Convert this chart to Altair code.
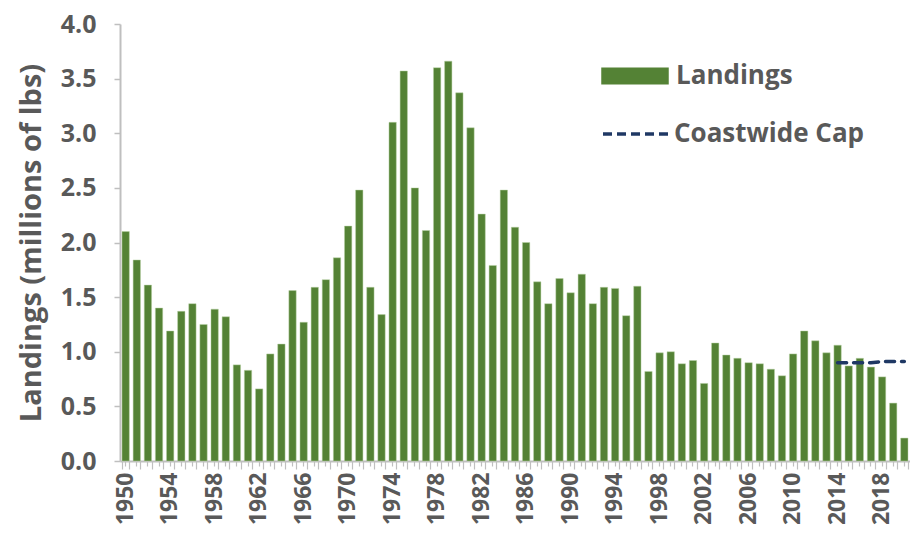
import altair as alt
import pandas as pd

years = list(range(1950, 2021))
landings = [2.10, 1.84, 1.61, 1.40, 1.19, 1.37, 1.44, 1.25, 1.39, 1.32,
            0.88, 0.83, 0.66, 0.98, 1.07, 1.56, 1.27, 1.59, 1.66, 1.86,
            2.15, 2.48, 1.59, 1.34, 3.10, 3.57, 2.50, 2.11, 3.60, 3.66,
            3.37, 3.05, 2.26, 1.79, 2.48, 2.14, 2.00, 1.64, 1.44, 1.67,
            1.54, 1.71, 1.44, 1.59, 1.58, 1.33, 1.60, 0.82, 0.99, 1.00,
            0.89, 0.92, 0.71, 1.08, 0.97, 0.94, 0.90, 0.89, 0.84, 0.78,
            0.98, 1.19, 1.10, 0.99, 1.06, 0.87, 0.94, 0.86, 0.77, 0.53,
            0.21]
cap_years = [2014, 2015, 2016, 2017, 2018, 2019, 2020]
cap_values = [0.90, 0.90, 0.90, 0.90, 0.91, 0.91, 0.91]
y_ticks = [0.0, 0.5, 1.0, 1.5, 2.0, 2.5, 3.0, 3.5, 4.0]

bars_df = pd.DataFrame({"Year": years, "Landings": landings, "series": "Landings"})
cap_df = pd.DataFrame({"Year": cap_years, "Cap": cap_values, "series": "Coastwide Cap"})

FONT = "Open Sans"
TXT = "#595959"
AX = "#BFBFBF"

x_scale = alt.Scale(domain=years, paddingInner=0.34, paddingOuter=0.18)
y_scale = alt.Scale(domain=[0, 4], nice=False)

bars = alt.Chart(bars_df).mark_bar(stroke="#b9d3a6", strokeWidth=0.6, strokeOpacity=0.8).encode(
    x=alt.X("Year:O", scale=x_scale, title=None,
            axis=alt.Axis(orient="bottom", labels=False, tickBand="extent", tickSize=8,
                          tickColor=AX, tickWidth=1.2, domainColor=AX, domainWidth=2)),
    y=alt.Y("Landings:Q", scale=y_scale,
            title="Landings (millions of lbs)",
            axis=alt.Axis(values=y_ticks, format=".1f", grid=False,
                          labelFont=FONT, labelFontSize=25, labelFontWeight="bold",
                          labelColor=TXT, labelPadding=18,
                          tickColor=AX, tickSize=6, tickWidth=1.5,
                          domainColor=AX, domainWidth=2,
                          titleFont=FONT, titleFontSize=29, titleFontWeight="bold",
                          titleColor=TXT, titlePadding=14)),
    fill=alt.Fill("series:N", scale=alt.Scale(domain=["Landings"], range=["#548235"]),
                  legend=alt.Legend(title=None, orient="none", legendX=481, legendY=18,
                                    padding=0, labelLimit=400,
                                    symbolType="M-1,-0.25H1V0.25H-1Z", symbolSize=4556,
                                    symbolStrokeWidth=0, symbolOpacity=1,
                                    labelFont=FONT, labelFontSize=26, labelFontWeight="bold",
                                    labelColor=TXT, labelOffset=7)),
)

cap = alt.Chart(cap_df).mark_line(strokeWidth=3.5, strokeDash=[9, 7], strokeCap="round").encode(
    x=alt.X("Year:O", scale=x_scale, title=None,
            axis=alt.Axis(orient="bottom",
                          labelExpr="datum.value % 4 == 2 ? datum.label : ''",
                          labelAngle=270, labelFont=FONT, labelFontSize=23,
                          labelFontWeight="bold", labelColor=TXT, labelPadding=6,
                          domain=False, tickSize=5, tickColor=AX, tickWidth=1.2)),
    y=alt.Y("Cap:Q", scale=y_scale),
    stroke=alt.Stroke("series:N", scale=alt.Scale(domain=["Coastwide Cap"], range=["#1F3864"]),
                      legend=alt.Legend(title=None, orient="none", legendX=481, legendY=74,
                                        padding=0, labelLimit=400,
                                        symbolType="stroke", symbolSize=4624,
                                        symbolStrokeWidth=3.5, symbolDash=[9, 5],
                                        labelFont=FONT, labelFontSize=26, labelFontWeight="bold",
                                        labelColor=TXT, labelOffset=1)),
)

chart = alt.layer(bars, cap).resolve_axis(x="independent").properties(
    width=790, height=437,
    autosize=alt.AutoSizeParams(type="none"),
    padding={"left": 112, "top": 16, "right": 0, "bottom": 77},
).configure_view(stroke=None)

chart.save("out.html", embed_options={"renderer": "svg", "actions": False})
